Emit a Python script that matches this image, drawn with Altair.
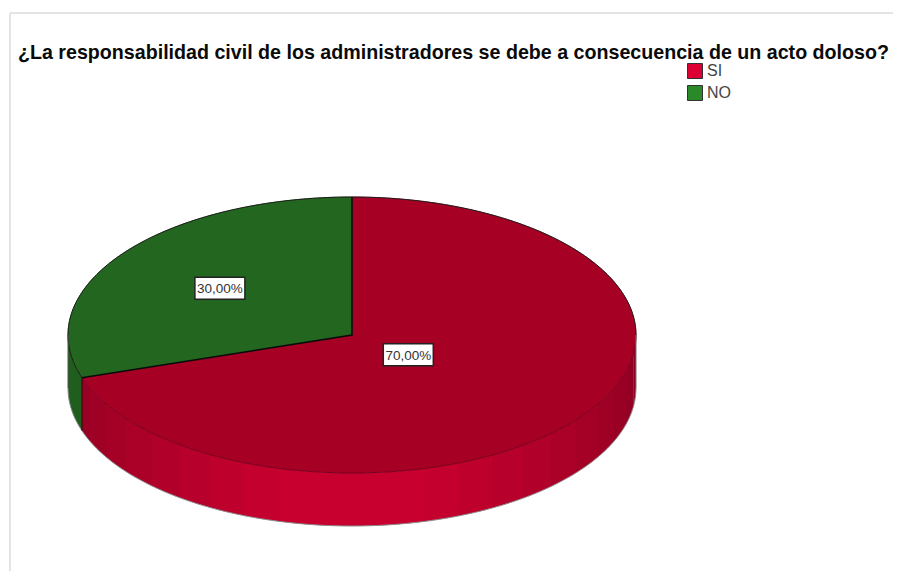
import math
import altair as alt
import pandas as pd

TITLE = "¿La responsabilidad civil de los administradores se debe a consecuencia de un acto doloso?"
categories = ["SI", "NO"]
shares = [70.0, 30.0]
labels = ["70,00%", "30,00%"]
legend_colors = ["#dc0033", "#2a8a2a"]
top_colors = ["#a60024", "#23661f"]
label_radius = [0.245, 0.575]
green_wall = "#1f5e1c"
red_wall_bands = ["#c8002f", "#c8002f", "#c4002e", "#bd002c", "#b7002b", "#b10029",
                  "#ab0028", "#a50026", "#9f0025", "#990024", "#930023", "#8c0022"]

W, H = 883, 558
CX, CY, RX, RY, DEPTH = 352, 335, 284, 138, 53
XDOM = [(10 - CX) / RX, (10 + W - CX) / RX]
YDOM = [(CY - (13 + H)) / RY, (CY - 13) / RY]
D = DEPTH / RY
BAND = 7.5
LAP = 0.4

xs = alt.Scale(domain=XDOM, range=[0, W], nice=False, zero=False)
ys = alt.Scale(domain=YDOM, range=[H, 0], nice=False, zero=False)
X = alt.X("u:Q", scale=xs, axis=None)
Y = alt.Y("v:Q", scale=ys, axis=None)

# slice angles derived from the shares: starts at 12 o'clock, SI clockwise
si_deg = shares[0] * 3.6
t_split = 90 - si_deg  # -162 deg == 198 deg


def arc(a, b, dv=0.0, step=1.0):
    n = max(2, int(abs(b - a) / step) + 1)
    return [(math.cos(math.radians(a + (b - a) * i / (n - 1))),
             math.sin(math.radians(a + (b - a) * i / (n - 1))) - dv) for i in range(n)]


walls, tops, edges = [], [], []


def add_poly(store, name, pts, color):
    for i, (u, v) in enumerate(pts + pts[:1]):
        store.append({"poly": name, "i": i, "u": u, "v": v, "col": color})


def add_edge(name, pts, color):
    for i, (u, v) in enumerate(pts):
        edges.append({"edge": name, "i": i, "u": u, "v": v, "col": color})


# side wall
add_poly(walls, "wall_green", arc(180, 198) + arc(198, 180, D), green_wall)
left_edges = [t_split] + sorted(x for x in [-90 - BAND * j for j in range(10)] if x > t_split)
for i in range(len(left_edges) - 1):
    idx = int((-90 - left_edges[i]) / BAND - 1e-6)
    a0, a1 = left_edges[i], left_edges[i + 1] + LAP
    add_poly(walls, f"wl{i:02d}", arc(a0, a1) + arc(a1, a0, D), red_wall_bands[min(idx, 11)])
for i in range(12):
    a0, a1 = -90 + BAND * i - LAP, -90 + BAND * (i + 1)
    add_poly(walls, f"wr{i:02d}", arc(a0, a1) + arc(a1, a0, D), red_wall_bands[i])

# top face
add_poly(tops, "top_si", [(0, 0)] + arc(90, t_split), top_colors[0])
add_poly(tops, "top_no", [(0, 0)] + arc(90, 198), top_colors[1])

# outlines
split = arc(198, 198)[0]
add_edge("upper", arc(0, 198), "#1a1a1a")
add_edge("lower", arc(-162, 0), "#7a0020")
add_edge("base", arc(-180, 0, D), "#8a8a8a")
add_edge("lside", [(-1, 0), (-1, -D)], "#555555")
add_edge("rside", [(1, 0), (1, -D)], "#777777")
add_edge("wallsplit", [split, (split[0], split[1] - D)], "#111111")

rad = pd.DataFrame([
    {"edge": "r1", "i": 0, "u": 0, "v": 1},
    {"edge": "r1", "i": 1, "u": 0, "v": 0},
    {"edge": "r1", "i": 2, "u": split[0], "v": split[1]},
])

wall_layer = alt.Chart(pd.DataFrame(walls)).mark_line(strokeOpacity=0).encode(
    x=X, y=Y, order="i:Q", detail="poly:N",
    fill=alt.Fill("col:N", scale=None, legend=None),
)
top_layer = alt.Chart(pd.DataFrame(tops)).mark_line(strokeWidth=0.6).encode(
    x=X, y=Y, order="i:Q", detail="poly:N",
    fill=alt.Fill("col:N", scale=None, legend=None),
    stroke=alt.Stroke("col:N", scale=None, legend=None),
)
edge_layer = alt.Chart(pd.DataFrame(edges)).mark_line(strokeWidth=1).encode(
    x=X, y=Y, order="i:Q", detail="edge:N",
    stroke=alt.Stroke("col:N", scale=None, legend=None),
)
rad_layer = alt.Chart(rad).mark_line(strokeWidth=1.5, color="#0a0a0a").encode(
    x=X, y=Y, order="i:Q", detail="edge:N")

# value labels: slice mid-angles
mids = [90 - si_deg / 2, 90 + shares[1] * 3.6 / 2]
lab = pd.DataFrame({
    "u": [label_radius[i] * math.cos(math.radians(mids[i])) for i in range(2)],
    "v": [label_radius[i] * math.sin(math.radians(mids[i])) for i in range(2)],
    "t": labels,
})
lab["u0"] = lab.u - 25 / RX
lab["u1"] = lab.u + 25 / RX
lab["v0"] = lab.v - 11 / RY
lab["v1"] = lab.v + 11 / RY
box_layer = alt.Chart(lab).mark_rect(fill="white", stroke="#222222", strokeWidth=1.5).encode(
    x=alt.X("u0:Q", scale=xs, axis=None), x2="u1:Q",
    y=alt.Y("v0:Q", scale=ys, axis=None), y2="v1:Q")
text_layer = alt.Chart(lab).mark_text(font="Liberation Sans", fontSize=13.5, dy=1, color="#333333").encode(
    x=X, y=Y, text="t:N")

# frame
frame = pd.DataFrame({"u0": [XDOM[0], XDOM[0]], "u1": [XDOM[0], XDOM[1]],
                      "v0": [YDOM[0], YDOM[1]], "v1": [YDOM[1], YDOM[1]]})
frame_layer = alt.Chart(frame).mark_rule(color="#e4e4e4", strokeWidth=2).encode(
    x=alt.X("u0:Q", scale=xs, axis=None), x2="u1:Q",
    y=alt.Y("v0:Q", scale=ys, axis=None), y2="v1:Q")

# legend
leg = pd.DataFrame({"cat": categories, "u": [0, 0], "v": [0, 0]})
legend_layer = alt.Chart(leg).mark_square(opacity=0, size=10).encode(
    x=X, y=Y,
    color=alt.Color("cat:N",
                    scale=alt.Scale(domain=categories, range=legend_colors),
                    sort=categories,
                    legend=alt.Legend(title=None, orient="none", legendX=677, legendY=50,
                                      symbolType="square", symbolSize=225, symbolOpacity=1,
                                      symbolStrokeColor="#333333", symbolStrokeWidth=1,
                                      labelFont="Liberation Sans", labelFontSize=16,
                                      labelColor="#444444", labelOffset=4, rowPadding=2)),
)

chart = alt.layer(
    frame_layer, wall_layer, top_layer, edge_layer, rad_layer, box_layer, text_layer, legend_layer
).properties(
    width=W, height=H,
    padding={"left": 2, "top": 5, "right": 0, "bottom": 0},
    autosize=alt.AutoSizeParams(type="none"),
    title=alt.TitleParams(TITLE, anchor="start", frame="group", font="Liberation Sans",
                          fontSize=19.65, fontWeight="bold", color="#0a0a0a", dx=8, offset=-51),
).configure_view(stroke=None)

chart.save("out.html", embed_options={"renderer": "svg", "actions": False})
